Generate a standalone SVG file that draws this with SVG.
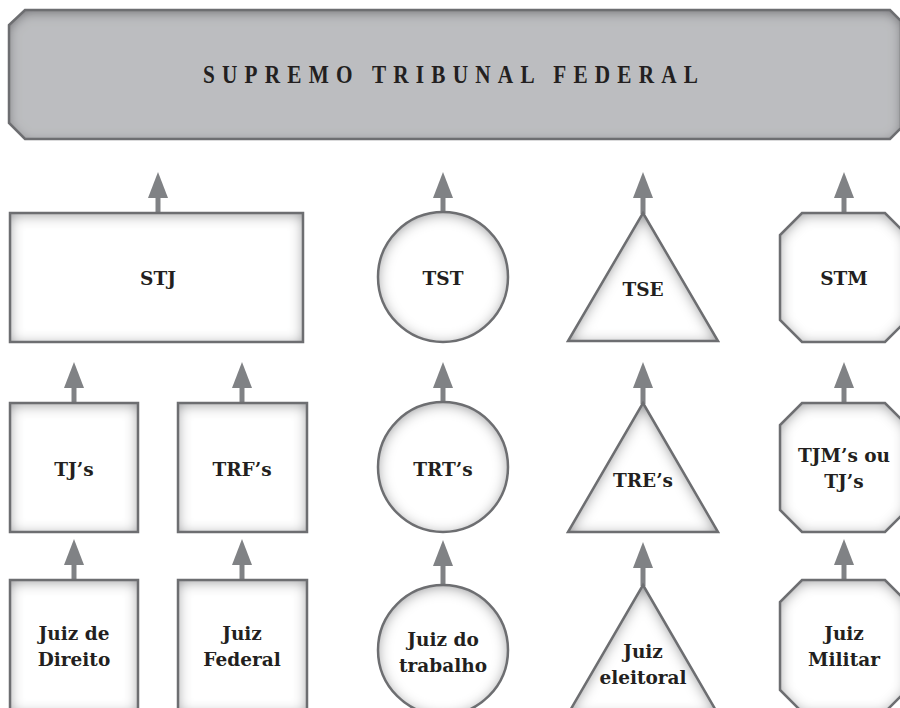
<svg xmlns="http://www.w3.org/2000/svg" width="900" height="708" viewBox="0 0 900 708">
<defs>
<style>
.bg{fill:#ffffff}
.fill{fill:#ffffff;filter:url(#inset)}
.edge{fill:none;stroke:#6d6e71;stroke-width:2.5;stroke-linejoin:miter}
.bfill{fill:#bcbdc0;filter:url(#insetB)}
.lbl{font-family:"DejaVu Serif","Liberation Serif",serif;font-weight:bold;font-size:18.5px;fill:#231f20;text-anchor:middle}
.title{font-family:"Liberation Serif","DejaVu Serif",serif;font-weight:bold;font-size:25px;fill:#231f20;letter-spacing:8.5px}
.arr{stroke:#808285;stroke-width:5;fill:none;marker-end:url(#head)}
</style>
<filter id="inset" x="-10%" y="-10%" width="120%" height="120%">
<feFlood flood-color="#7f8083" result="f"/>
<feComposite in="f" in2="SourceAlpha" operator="out" result="o"/>
<feGaussianBlur in="o" stdDeviation="7" result="b"/>
<feOffset in="b" dy="2" result="bo"/>
<feComposite in="bo" in2="SourceAlpha" operator="in" result="s"/>
<feMerge><feMergeNode in="SourceGraphic"/><feMergeNode in="s"/></feMerge>
</filter>
<filter id="insetB" x="-5%" y="-20%" width="110%" height="140%">
<feFlood flood-color="#6a6b6e" result="f"/>
<feComposite in="f" in2="SourceAlpha" operator="out" result="o"/>
<feGaussianBlur in="o" stdDeviation="6" result="b"/>
<feOffset in="b" dy="3" result="bo"/>
<feComposite in="bo" in2="SourceAlpha" operator="in" result="s"/>
<feMerge><feMergeNode in="SourceGraphic"/><feMergeNode in="s"/></feMerge>
</filter>
<marker id="head" markerUnits="userSpaceOnUse" markerWidth="26" markerHeight="20" refX="12" refY="10" orient="auto">
<path d="M0,0 L26,10 L0,20 Z" fill="#808285"/>
</marker>
</defs>
<rect class="bg" x="0" y="0" width="900" height="708"/>

<g id="stf">
<polygon class="bfill" points="25,10 890,10 901,21 901,128 890,139 25,139 9,123 9,25"/>
<polygon class="edge" points="25,10 890,10 901,21 901,128 890,139 25,139 9,123 9,25"/>
<g transform="translate(203,83) scale(0.85,1)"><text class="title" x="0" y="0">SUPREMO TRIBUNAL FEDERAL</text></g>
</g>

<g id="connectors">
<path class="arr" d="M158,213 V186"/>
<path class="arr" d="M443,213 V186"/>
<path class="arr" d="M643,214 V186"/>
<path class="arr" d="M844,213 V186"/>
<path class="arr" d="M74,404 V376"/>
<path class="arr" d="M242,404 V376"/>
<path class="arr" d="M443,404 V376"/>
<path class="arr" d="M643,404 V376"/>
<path class="arr" d="M844,404 V376"/>
<path class="arr" d="M74,581 V553"/>
<path class="arr" d="M242,581 V553"/>
<path class="arr" d="M443,586 V554"/>
<path class="arr" d="M643,586 V556"/>
<path class="arr" d="M844,581 V553"/>
</g>

<g id="stj">
<rect class="fill" x="10" y="213" width="293" height="129"/>
<rect class="edge" x="10" y="213" width="293" height="129"/>
<text class="lbl" x="158" y="285">STJ</text>
</g>
<g id="tst">
<circle class="fill" cx="443" cy="277" r="65"/>
<circle class="edge" cx="443" cy="277" r="65"/>
<text class="lbl" x="443" y="285">TST</text>
</g>
<g id="tse">
<polygon class="fill" points="643,213 718,341 568,341"/>
<polygon class="edge" points="643,213 718,341 568,341"/>
<text class="lbl" x="643" y="296">TSE</text>
</g>
<g id="stm">
<polygon class="fill" points="802,213 885,213 907,235 907,320 885,342 802,342 780,320 780,235"/>
<polygon class="edge" points="802,213 885,213 907,235 907,320 885,342 802,342 780,320 780,235"/>
<text class="lbl" x="844" y="285">STM</text>
</g>

<g id="tjs">
<rect class="fill" x="10" y="403" width="128" height="129"/>
<rect class="edge" x="10" y="403" width="128" height="129"/>
<text class="lbl" x="74" y="476">TJ’s</text>
</g>
<g id="trfs">
<rect class="fill" x="178" y="403" width="129" height="129"/>
<rect class="edge" x="178" y="403" width="129" height="129"/>
<text class="lbl" x="242" y="476">TRF’s</text>
</g>
<g id="trts">
<circle class="fill" cx="443" cy="467" r="65"/>
<circle class="edge" cx="443" cy="467" r="65"/>
<text class="lbl" x="443" y="476">TRT’s</text>
</g>
<g id="tres">
<polygon class="fill" points="643,403 718,532 568,532"/>
<polygon class="edge" points="643,403 718,532 568,532"/>
<text class="lbl" x="643" y="487">TRE’s</text>
</g>
<g id="tjms">
<polygon class="fill" points="802,403 885,403 907,425 907,510 885,532 802,532 780,510 780,425"/>
<polygon class="edge" points="802,403 885,403 907,425 907,510 885,532 802,532 780,510 780,425"/>
<text class="lbl" x="844" y="462">TJM’s ou</text>
<text class="lbl" x="844" y="488">TJ’s</text>
</g>

<g id="juiz-direito">
<rect class="fill" x="10" y="580" width="128" height="132"/>
<rect class="edge" x="10" y="580" width="128" height="132"/>
<text class="lbl" x="74" y="640">Juiz de</text>
<text class="lbl" x="74" y="666">Direito</text>
</g>
<g id="juiz-federal">
<rect class="fill" x="178" y="580" width="129" height="132"/>
<rect class="edge" x="178" y="580" width="129" height="132"/>
<text class="lbl" x="242" y="640">Juiz</text>
<text class="lbl" x="242" y="666">Federal</text>
</g>
<g id="juiz-trabalho">
<circle class="fill" cx="443" cy="650" r="65"/>
<circle class="edge" cx="443" cy="650" r="65"/>
<text class="lbl" x="443" y="646">Juiz do</text>
<text class="lbl" x="443" y="672">trabalho</text>
</g>
<g id="juiz-eleitoral">
<polygon class="fill" points="643,585 718,714 568,714"/>
<polygon class="edge" points="643,585 718,714 568,714"/>
<text class="lbl" x="643" y="658">Juiz</text>
<text class="lbl" x="643" y="684">eleitoral</text>
</g>
<g id="juiz-militar">
<polygon class="fill" points="802,580 885,580 907,602 907,690 885,712 802,712 780,690 780,602"/>
<polygon class="edge" points="802,580 885,580 907,602 907,690 885,712 802,712 780,690 780,602"/>
<text class="lbl" x="844" y="640">Juiz</text>
<text class="lbl" x="844" y="666">Militar</text>
</g>
</svg>
